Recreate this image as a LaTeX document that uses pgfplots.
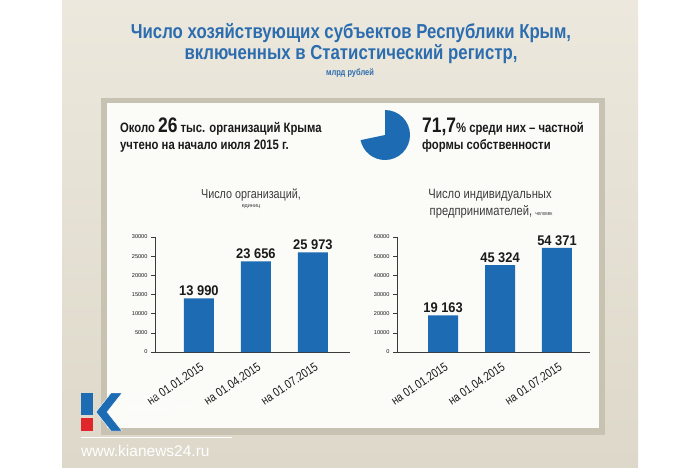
\documentclass[border=0pt]{standalone}
\usepackage{fontspec}
\usepackage{pgfplots}
\pgfplotsset{compat=1.18}
\setmainfont{Liberation Sans}
\newfontfamily\cond{Liberation Sans}[FakeStretch=0.83]
\newfontfamily\condval{Liberation Sans}[FakeStretch=0.92]

\definecolor{beigeTop}{HTML}{ECE8DD}
\definecolor{beigeBot}{HTML}{DDD8C9}
\definecolor{frameC}{HTML}{C8C2B3}
\definecolor{panelC}{HTML}{FBFBF8}
\definecolor{titleBlue}{HTML}{2C6DAF}
\definecolor{barBlue}{HTML}{1D6BB3}
\definecolor{txt}{HTML}{1A1A1A}
\definecolor{axisC}{HTML}{3A3A3A}
\definecolor{logoRed}{HTML}{E0252B}

\pgfplotsset{
  krym/.style={
    anchor=south west, scale only axis,
    width=195pt, height=115pt,
    ymin=0, clip=false,
    axis lines=left, axis line style={-, axisC, line width=0.8pt},
    ybar, bar width=30pt,
    xtick={0,1,2},
    xticklabels={на 01.01.2015, на 01.04.2015, на 01.07.2015},
    major x tick style={draw=none},
    extra x ticks={0.5,1.5}, extra x tick labels={},
    extra x tick style={tick style={draw=axisC, line width=0.6pt}, tick align=outside, major tick length=3pt},
    xticklabel style={rotate=34, anchor=north east, font=\cond\fontsize{12.3}{13}\selectfont, text=txt, xshift=1pt, yshift=-2pt},
    ytick pos=left, tick align=outside, major tick length=4pt,
    y tick style={axisC, line width=0.6pt},
    yticklabel style={font=\fontsize{5.6}{6}\selectfont, text=txt},
    scaled y ticks=false,
    /pgf/number format/.cd, 1000 sep={}, assume math mode=true,
    /pgfplots/.cd,
    nodes near coords={\pgfmathprintnumber[1000 sep={\ }]{\pgfplotspointmeta}},
    every node near coord/.append style={font=\condval\bfseries\fontsize{14}{15}\selectfont, text=txt, anchor=south, yshift=-1pt},
  }
}

\begin{document}
\begin{tikzpicture}
% page
\fill[white] (0pt,0pt) rectangle (700pt,-467pt);
\shade[top color=beigeTop, bottom color=beigeBot] (62pt,0pt) rectangle (638pt,-467pt);
% panel
\fill[frameC] (101pt,-98pt) rectangle (605pt,-435pt);
\fill[panelC] (107pt,-103pt) rectangle (599pt,-428pt);

% titles
\node[text=titleBlue, font=\cond\bfseries\fontsize{20.2}{22}\selectfont] at (351pt,-33pt) {Число хозяйствующих субъектов Республики Крым,};
\node[text=titleBlue, font=\cond\bfseries\fontsize{20.2}{22}\selectfont] at (351pt,-54pt) {включенных в Статистический регистр,};
\node[text=titleBlue, font=\cond\bfseries\fontsize{9}{10}\selectfont] at (350pt,-73pt) {млрд рублей};

% top facts
\node[anchor=base west, text=txt, font=\cond\bfseries\fontsize{13.6}{14}\selectfont, inner sep=0pt] at (120pt,-132pt) {Около {\fontsize{21}{22}\selectfont 26} тыс. организаций Крыма};
\node[anchor=base west, text=txt, font=\cond\bfseries\fontsize{13.6}{14}\selectfont, inner sep=0pt] at (120pt,-149pt) {учтено на начало июля 2015 г.};
\fill[barBlue] (385pt,-135pt) -- ++(90:25pt) arc[start angle=90, end angle={90-3.6*71.7}, radius=25pt] -- cycle;
\node[anchor=base west, text=txt, font=\cond\bfseries\fontsize{13.6}{14}\selectfont, inner sep=0pt] at (422pt,-132pt) {{\fontsize{21}{22}\selectfont 71,7}\% среди них – частной};
\node[anchor=base west, text=txt, font=\cond\bfseries\fontsize{13.6}{14}\selectfont, inner sep=0pt] at (422pt,-149pt) {формы собственности};

% chart titles
\node[text=txt!85, font=\cond\fontsize{13}{14}\selectfont] at (251pt,-195pt) {Число организаций,};
\node[text=txt!85, font=\fontsize{5.5}{6}\selectfont] at (251pt,-207pt) {единиц};
\node[text=txt!85, font=\cond\fontsize{13.5}{14}\selectfont] at (490pt,-195pt) {Число индивидуальных};
\node[text=txt!85, font=\cond\fontsize{13.5}{14}\selectfont] at (491pt,-212pt) {предпринимателей, {\fontsize{5.5}{6}\selectfont человек}};

% chart 1
\begin{axis}[krym, at={(155pt,-352pt)}, xmin=-0.77, xmax=2.65, ymax=30000,
  ytick={0,5000,...,30000}]
\addplot[fill=barBlue, draw=none] coordinates {(0,13990) (1,23656) (2,25973)};
\end{axis}

% chart 2
\begin{axis}[krym, at={(397pt,-352pt)}, width=193pt, xmin=-0.81, xmax=2.58, ymax=60000,
  ytick={0,10000,...,60000}]
\addplot[fill=barBlue, draw=none] coordinates {(0,19163) (1,45324) (2,54371)};
\end{axis}

% logo
\fill[barBlue] (81pt,-393pt) rectangle (93pt,-415pt);
\fill[logoRed] (81pt,-418pt) rectangle (93pt,-431pt);
\fill[barBlue, draw=white, line width=0.4pt] (96pt,-412pt) -- (111pt,-393pt) -- (122pt,-393pt) -- (107pt,-412pt) -- (122pt,-431pt) -- (111pt,-431pt) -- cycle;
\node[anchor=north west, align=left, text=white, opacity=0.75, font=\fontsize{8}{11}\selectfont, inner sep=0pt] at (126pt,-394pt) {Крымское\\информационное\\агентство};
\draw[white, line width=0.6pt] (81pt,-437pt) -- (232pt,-437pt);
\node[anchor=west, text=white, font=\fontsize{15.5}{16}\selectfont, inner sep=0pt] at (81pt,-451pt) {www.kianews24.ru};
\end{tikzpicture}
\end{document}
